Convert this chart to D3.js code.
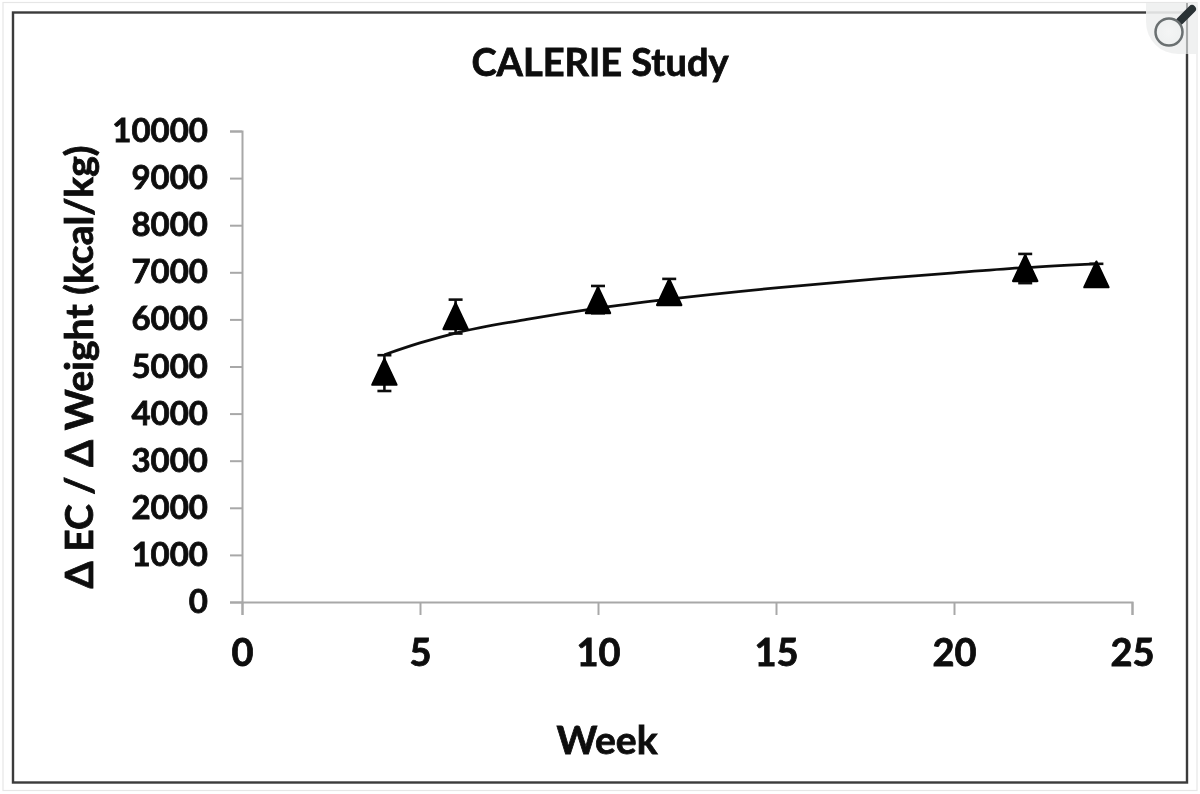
<!DOCTYPE html>
<html>
<head>
<meta charset="utf-8">
<script src="https://cdn.jsdelivr.net/npm/d3@7"></script>
<style>
html, body { margin: 0; padding: 0; background: #fff; }
svg { display: block; }
text { font-family: Lato, "Open Sans", sans-serif; font-weight: 700; fill: #0d0d0d; stroke: #0d0d0d; stroke-width: 0.8px; }
</style>
</head>
<body>
<div id="chart"></div>
<script>
const weeks = [4, 6, 10, 12, 22, 24];
const means = [4880, 6060, 6400, 6570, 7080, 6950];
const errTop = [5240, 6420, 6710, 6860, 7390, 7180];
const errBottom = [4480, 5700, 6130, 6350, 6770, 6700];

const trendWeeks = [4, 5, 6, 8, 10, 12, 15, 18, 20, 22, 24];
const trendValues = [5250, 5500, 5710, 6000, 6240, 6430, 6670, 6870, 6990, 7100, 7180];

const xTicks = [0, 5, 10, 15, 20, 25];
const yTicks = [0, 1000, 2000, 3000, 4000, 5000, 6000, 7000, 8000, 9000, 10000];

const width = 1200, height = 794;

const svg = d3.select("#chart").append("svg")
    .attr("width", width)
    .attr("height", height);

// the source is a scaled up screenshot, so soften it a little
const defs = svg.append("defs");
defs.append("filter").attr("id", "soft")
    .append("feGaussianBlur").attr("stdDeviation", 0.6);
const cornerGrad = defs.append("radialGradient").attr("id", "lens");
cornerGrad.append("stop").attr("offset", "0%").attr("stop-color", "#f4f5f5");
cornerGrad.append("stop").attr("offset", "100%").attr("stop-color", "#eef0f0");

const page = svg.append("g").attr("filter", "url(#soft)");

// outer pale border and dark frame
page.append("rect")
    .attr("x", 3).attr("y", 2.5).attr("width", 1194).attr("height", 788)
    .attr("fill", "none").attr("stroke", "#e6e6e6").attr("stroke-width", 1.2);
page.append("rect")
    .attr("x", 13).attr("y", 12.5).attr("width", 1174).attr("height", 770)
    .attr("fill", "#fff").attr("stroke", "#3a3a3a").attr("stroke-width", 2.4);

const x = d3.scaleLinear().domain([0, 25]).range([242, 1132]);
const y = d3.scaleLinear().domain([0, 10000]).range([602, 131]);

const xAxis = page.append("g")
    .attr("transform", `translate(0,${y(0)})`)
    .call(d3.axisBottom(x).tickValues(xTicks).tickSize(13).tickPadding(24).tickFormat(d3.format("d")));
const yAxis = page.append("g")
    .attr("transform", `translate(${x(0)},0)`)
    .call(d3.axisLeft(y).tickValues(yTicks).tickSize(12).tickPadding(22).tickFormat(d3.format("d")));

[xAxis, yAxis].forEach(a => {
    a.attr("font-family", null).attr("font-size", null);
    a.select(".domain").attr("stroke", "#a8a8a8").attr("stroke-width", 2);
    a.selectAll(".tick line").attr("stroke", "#a8a8a8").attr("stroke-width", 2);
    a.selectAll("text").attr("fill", "#0d0d0d");
});
xAxis.selectAll("text").style("font-size", "38px");
yAxis.selectAll("text").style("font-size", "33px");

// trend line
const line = d3.line()
    .x(d => x(d[0]))
    .y(d => y(d[1]))
    .curve(d3.curveMonotoneX);

page.append("path")
    .datum(d3.zip(trendWeeks, trendValues))
    .attr("d", line)
    .attr("fill", "none")
    .attr("stroke", "#111")
    .attr("stroke-width", 2.8);

// error bars
const bars = page.append("g").attr("stroke", "#111").attr("stroke-width", 2.6);
weeks.forEach((w, i) => {
    bars.append("line")
        .attr("x1", x(w)).attr("x2", x(w))
        .attr("y1", y(errTop[i])).attr("y2", y(errBottom[i]));
    [errTop[i], errBottom[i]].forEach(v => {
        bars.append("line")
            .attr("x1", x(w) - 7).attr("x2", x(w) + 7)
            .attr("y1", y(v)).attr("y2", y(v));
    });
});

// triangles
page.append("g").selectAll("path")
    .data(d3.zip(weeks, means))
    .join("path")
    .attr("transform", d => `translate(${x(d[0])},${y(d[1])})`)
    .attr("d", "M0,-13 L12,12.5 L-12,12.5 Z")
    .attr("fill", "#000")
    .attr("stroke", "#000")
    .attr("stroke-width", 2.4)
    .attr("stroke-linejoin", "round");

// titles
page.append("text")
    .attr("x", 600).attr("y", 76)
    .attr("text-anchor", "middle")
    .style("font-size", "38px")
    .text("CALERIE Study");

page.append("text")
    .attr("x", 607).attr("y", 754)
    .attr("text-anchor", "middle")
    .style("font-size", "39px")
    .text("Week");

page.append("text")
    .attr("transform", "translate(93,367) rotate(-90)")
    .attr("text-anchor", "middle")
    .style("font-size", "39px")
    .text("Δ EC / Δ Weight (kcal/kg)");

// magnifier badge in the corner
const badge = page.append("g");
badge.append("path")
    .attr("d", "M1146,3 H1198 V54 H1178 A32,32 0 0 1 1146,22 Z")
    .attr("fill", "#eef0f0").attr("opacity", 0.9);
badge.append("line")
    .attr("x1", 1187).attr("y1", 3).attr("x2", 1187).attr("y2", 54)
    .attr("stroke", "#a9abab").attr("stroke-width", 2);
badge.append("line")
    .attr("x1", 1180).attr("y1", 21).attr("x2", 1192).attr("y2", 9)
    .attr("stroke", "#2b3136").attr("stroke-width", 8).attr("stroke-linecap", "round");
badge.append("circle")
    .attr("cx", 1169).attr("cy", 32).attr("r", 13.5)
    .attr("fill", "url(#lens)").attr("stroke", "#6a6f71").attr("stroke-width", 2.5);
</script>
</body>
</html>
